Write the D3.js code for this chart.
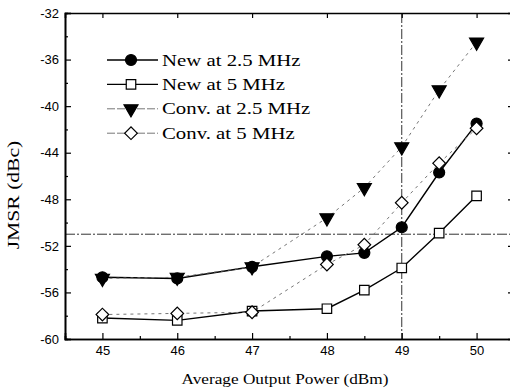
<!DOCTYPE html>
<html>
<head>
<meta charset="utf-8">
<script src="https://cdn.jsdelivr.net/npm/d3@7"></script>
<style>
  body { margin: 0; background: #fff; }
  svg { display: block; }
  .tickText text { font-family: "Liberation Sans", Arial, sans-serif; font-size: 13px; fill: #000; }
  .serif { font-family: "Liberation Serif", "Times New Roman", serif; fill: #000; }
</style>
</head>
<body>
<div id="chart"></div>
<script>
// chart data
var powers = [45, 46, 47, 48, 48.5, 49, 49.5, 50];
var newAt25 = [-54.7, -54.8, -53.8, -52.9, -52.6, -50.4, -45.7, -41.5];
var newAt5 = [-58.2, -58.4, -57.6, -57.4, -55.8, -53.9, -50.9, -47.7];
var convAt25 = [-54.8, -54.7, -53.8, -49.6, -47.0, -43.5, -38.6, -34.5];
var convAt5 = [-57.9, -57.8, -57.7, -53.6, -51.9, -48.3, -44.9, -41.9];
var seriesNames = ["New at 2.5 MHz", "New at 5 MHz", "Conv. at 2.5 MHz", "Conv. at 5 MHz"];
var xTicks = [45, 46, 47, 48, 49, 50];
var yTicks = [-60, -56, -52, -48, -44, -40, -36, -32];
var limitJmsr = -51;
var limitPower = 49;

var w = 510, h = 389;
// plot frame (right edge runs just past the picture)
var margin = {left: 65, right: 514, top: 13, bottom: 339};

var svg = d3.select("#chart").append("svg")
  .attr("width", w)
  .attr("height", h);

var x = d3.scaleLinear().domain([44.5, 50.5]).range([margin.left, margin.right]);
var y = d3.scaleLinear().domain([-60, -32]).range([margin.bottom, margin.top]);

// minor tick positions
var xMinor = d3.range(44.5, 50.6, 0.5).filter(function(v){ return xTicks.indexOf(v) < 0; });
var yMinor = d3.range(-58, -32, 4);

// plain hyphen for negatives, as in the original figure
var plain = function(d){ return String(d); };

// reference lines
svg.append("line")
  .attr("x1", margin.left).attr("x2", margin.right)
  .attr("y1", y(limitJmsr)).attr("y2", y(limitJmsr))
  .attr("stroke", "#333").attr("stroke-width", 1)
  .attr("stroke-dasharray", "10,2,2,2");
svg.append("line")
  .attr("x1", x(limitPower)).attr("x2", x(limitPower))
  .attr("y1", margin.top).attr("y2", margin.bottom)
  .attr("stroke", "#333").attr("stroke-width", 1)
  .attr("stroke-dasharray", "10,2,2,2");

// axes, ticks inside the frame
function axisGroup(axis, tx, ty, cls) {
  var g = svg.append("g")
    .attr("class", cls || "")
    .attr("transform", "translate(" + tx + "," + ty + ")")
    .call(axis);
  g.select(".domain").attr("stroke", "#000").attr("stroke-width", 1.6);
  g.selectAll(".tick line").attr("stroke", "#000").attr("stroke-width", 1.2);
  return g;
}

axisGroup(d3.axisLeft(y).tickValues(yTicks).tickSize(-6).tickPadding(6).tickFormat(plain), margin.left, 0, "tickText");
axisGroup(d3.axisLeft(y).tickValues(yMinor).tickSize(-3).tickFormat(""), margin.left, 0);
axisGroup(d3.axisBottom(x).tickValues(xTicks).tickSize(-6).tickPadding(7).tickFormat(plain), 0, margin.bottom, "tickText");
axisGroup(d3.axisBottom(x).tickValues(xMinor).tickSize(-3).tickFormat(""), 0, margin.bottom);
axisGroup(d3.axisTop(x).tickValues(xTicks).tickSize(-5).tickFormat(""), 0, margin.top);
axisGroup(d3.axisRight(y).tickValues(yTicks).tickSize(-6).tickFormat(""), margin.right, 0);
axisGroup(d3.axisRight(y).tickValues(yMinor).tickSize(-3).tickFormat(""), margin.right, 0);

// series
var series = [
  { name: seriesNames[0], values: newAt25, symbol: d3.symbolCircle, size: 95, fill: "#000", dash: null, stroke: "#000", width: 1.4, rot: 0 },
  { name: seriesNames[1], values: newAt5, symbol: d3.symbolSquare, size: 90, fill: "#fff", dash: null, stroke: "#000", width: 1.4, rot: 0 },
  { name: seriesNames[2], values: convAt25, symbol: d3.symbolTriangle, size: 85, fill: "#000", dash: "3,4", stroke: "#777", width: 1, rot: 180 },
  { name: seriesNames[3], values: convAt5, symbol: d3.symbolSquare, size: 80, fill: "#fff", dash: "3,4", stroke: "#777", width: 1, rot: 45 }
];

var line = d3.line()
  .x(function(d){ return x(d[0]); })
  .y(function(d){ return y(d[1]); });

series.forEach(function(s){
  var pts = powers.map(function(p, i){ return [p, s.values[i]]; });
  svg.append("path")
    .datum(pts)
    .attr("d", line)
    .attr("fill", "none")
    .attr("stroke", s.stroke)
    .attr("stroke-width", s.width)
    .attr("stroke-dasharray", s.dash);
});

function marker(g, s, cx, cy) {
  g.append("path")
    .attr("d", d3.symbol().type(s.symbol).size(s.size)())
    .attr("transform", "translate(" + cx + "," + cy + ") rotate(" + s.rot + ")")
    .attr("fill", s.fill)
    .attr("stroke", "#000")
    .attr("stroke-width", 1.2);
}

series.forEach(function(s){
  var g = svg.append("g");
  powers.forEach(function(p, i){
    marker(g, s, x(p), y(s.values[i]));
  });
});

// legend
var legend = svg.append("g");
series.forEach(function(s, i){
  var ly = 60 + i * 24.4;
  legend.append("line")
    .attr("x1", 107).attr("x2", 158)
    .attr("y1", ly).attr("y2", ly)
    .attr("stroke", s.stroke)
    .attr("stroke-width", s.width)
    .attr("stroke-dasharray", s.dash ? "8,2" : null);
  marker(legend, s, 131, ly);
  legend.append("text")
    .attr("class", "serif")
    .attr("transform", "translate(162," + (ly + 5.5) + ") scale(1.3,1)")
    .style("font-size", "16px")
    .text(s.name);
});

// axis titles
svg.append("text")
  .attr("class", "serif")
  .attr("transform", "translate(285,384) scale(1.15,1)")
  .attr("text-anchor", "middle")
  .style("font-size", "15px")
  .text("Average Output Power (dBm)");

svg.append("text")
  .attr("class", "serif")
  .attr("transform", "translate(19,195) rotate(-90) scale(1.35,1)")
  .attr("text-anchor", "middle")
  .style("font-size", "16px")
  .text("JMSR (dBc)");
</script>
</body>
</html>
